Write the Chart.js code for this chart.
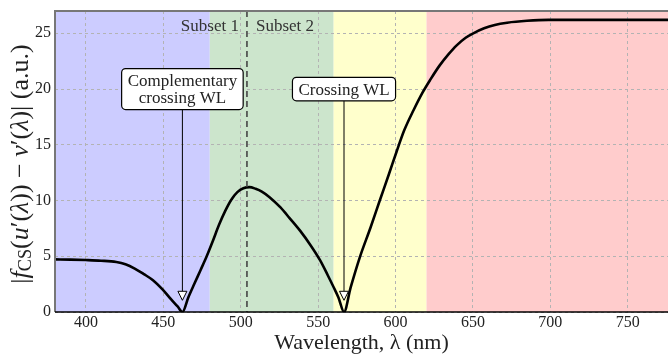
<!DOCTYPE html>
<html>
<head>
<meta charset="utf-8">
<script src="https://cdn.jsdelivr.net/npm/chart.js@4/dist/chart.umd.min.js"></script>
<style>
  html, body { margin: 0; padding: 0; background: #fff; }
  #chart { display: block; }
</style>
</head>
<body>
<canvas id="chart" width="668" height="356"></canvas>
<script>
// Kurve |f_CS(u'(λ)) - v'(λ)| über der Wellenlänge
const wavelengths = [380, 389.9, 399.8, 409.7, 419.6, 425.5, 431.5, 437.4, 443.3, 449.3, 455.2, 459.2, 462.3,
    466.1, 470.1, 474.0, 478.0, 481.9, 485.9, 489.9, 493.8, 497.8, 501.7, 505.7, 509.6, 513.6, 518.6, 525.5, 531.4,
    538.3, 545.3, 551.2, 556.2, 560.1, 563.1, 566.7, 571.0, 576.9, 583.9, 589.8, 595.8, 600.7, 605.6, 611.6,
    617.5, 622.5, 628.4, 634.4, 639.3, 645.3, 650.2, 657.2, 664.1, 672.1, 684.9, 698.8, 717.9, 776];
const signal = [4.72, 4.70, 4.66, 4.60, 4.48, 4.28, 3.90, 3.40, 2.85, 2.05, 1.10, 0.50, 0.0,
    1.30, 2.55, 3.75, 5.00, 6.35, 7.80, 9.05, 10.05, 10.75, 11.10, 11.20, 11.05, 10.80, 10.30, 9.40, 8.45,
    7.30, 5.95, 4.65, 3.30, 2.20, 1.30, 0.0, 2.20, 4.90, 7.60, 10.00, 12.40, 14.40, 16.30, 18.10,
    19.70, 20.85, 22.10, 23.15, 23.90, 24.60, 25.00, 25.45, 25.75, 25.95, 26.12, 26.20, 26.20, 26.20];

// Farbbereiche (Wellenlängen-Grenzen)
const regionEdges = [380, 480, 560, 620, 776];
const regionColors = ['#ccccff', '#cce5cc', '#ffffcc', '#ffcccc'];

const subsetSplit = 504;
const crossings = [
    { wl: 462.3, lines: ['Complementary', 'crossing WL'] },
    { wl: 566.7, lines: ['Crossing WL'] }
];
const labelLevel = 20;
const arrowTipLevel = 1.05;

const xTicks = [400, 450, 500, 550, 600, 650, 700, 750];
const yTicks = [0, 5, 10, 15, 20, 25];

const SERIF = '"Liberation Serif", "DejaVu Serif", serif';

const backgroundPlugin = {
    id: 'regions',
    beforeDraw(chart) {
        const { ctx, chartArea, scales: { x } } = chart;
        ctx.save();
        for (let i = 0; i < regionColors.length; i++) {
            const x0 = x.getPixelForValue(regionEdges[i]);
            const x1 = x.getPixelForValue(regionEdges[i + 1]);
            ctx.fillStyle = regionColors[i];
            ctx.fillRect(x0, chartArea.top, x1 - x0, chartArea.bottom - chartArea.top);
        }
        ctx.restore();
    }
};

function drawRich(ctx, segments, size) {
    // Breite messen, dann zentriert zeichnen
    const fontFor = s => (s.i ? 'italic ' : '') + (s.sub ? size * 0.7 : size) + 'px ' + SERIF;
    let total = 0;
    segments.forEach(s => { ctx.font = fontFor(s); total += ctx.measureText(s.t).width; });
    let cx = -total / 2;
    segments.forEach(s => {
        ctx.font = fontFor(s);
        ctx.fillText(s.t, cx, s.sub ? size * 0.22 : 0);
        cx += ctx.measureText(s.t).width;
    });
}

const overlayPlugin = {
    id: 'overlay',
    afterDatasetsDraw(chart) {
        const { ctx, chartArea, scales: { x, y } } = chart;
        ctx.save();

        // gestrichelte Trennlinie Subset 1 / Subset 2
        const sx = x.getPixelForValue(subsetSplit);
        ctx.strokeStyle = '#444';
        ctx.lineWidth = 1.6;
        ctx.setLineDash([6, 4]);
        ctx.beginPath();
        ctx.moveTo(sx, chartArea.top);
        ctx.lineTo(sx, chartArea.bottom);
        ctx.stroke();
        ctx.setLineDash([]);

        ctx.fillStyle = '#333';
        ctx.font = '17px ' + SERIF;
        ctx.textBaseline = 'middle';
        ctx.textAlign = 'right';
        ctx.fillText('Subset 1', sx - 8, 27);
        ctx.textAlign = 'left';
        ctx.fillText('Subset 2', sx + 9, 27);

        // Pfeile mit Beschriftung
        crossings.forEach(c => {
            const px = x.getPixelForValue(c.wl);
            const py = y.getPixelForValue(labelLevel);
            const tip = y.getPixelForValue(arrowTipLevel);
            ctx.font = '17px ' + SERIF;
            const w = Math.max(...c.lines.map(l => ctx.measureText(l).width)) + 12;
            const lh = 17.5;
            const h = c.lines.length * lh + 6;
            const bx = px - w / 2, by = py - h / 2;

            ctx.strokeStyle = '#000';
            ctx.lineWidth = 1;
            ctx.beginPath();
            ctx.moveTo(px, by + h);
            ctx.lineTo(px, tip - 9);
            ctx.stroke();
            ctx.beginPath();
            ctx.moveTo(px, tip);
            ctx.lineTo(px - 4.5, tip - 9);
            ctx.lineTo(px + 4.5, tip - 9);
            ctx.closePath();
            ctx.fillStyle = '#fff';
            ctx.fill();
            ctx.stroke();

            ctx.beginPath();
            ctx.roundRect(bx, by, w, h, 4);
            ctx.fillStyle = '#fff';
            ctx.fill();
            ctx.lineWidth = 1.2;
            ctx.stroke();

            ctx.fillStyle = '#222';
            ctx.textAlign = 'center';
            ctx.textBaseline = 'middle';
            c.lines.forEach((l, i) => {
                ctx.fillText(l, px, by + 3 + lh * (i + 0.5) + 1);
            });
        });
        ctx.restore();
    },
    afterDraw(chart) {
        const { ctx, chartArea } = chart;
        ctx.save();
        // Achsenrahmen
        ctx.strokeStyle = '#777';
        ctx.lineWidth = 2;
        ctx.beginPath();
        ctx.moveTo(chartArea.left, chartArea.bottom);
        ctx.lineTo(chartArea.left, chartArea.top);
        ctx.lineTo(chartArea.right, chartArea.top);
        ctx.stroke();
        ctx.strokeStyle = '#000';
        ctx.lineWidth = 1.5;
        ctx.beginPath();
        ctx.moveTo(chartArea.left, chartArea.bottom);
        ctx.lineTo(chartArea.right, chartArea.bottom);
        ctx.stroke();

        // y-Achsentitel mit Kursiv und Index
        ctx.translate(21, 164);
        ctx.rotate(-Math.PI / 2);
        ctx.fillStyle = '#222';
        ctx.textAlign = 'left';
        ctx.textBaseline = 'middle';
        drawRich(ctx, [
            { t: '|' }, { t: 'f', i: true }, { t: 'CS', sub: true }, { t: '(' },
            { t: 'u', i: true }, { t: '′(' }, { t: 'λ', i: true }, { t: ')) − ' },
            { t: 'v', i: true }, { t: '′(' }, { t: 'λ', i: true }, { t: ')| (a.u.)' }
        ], 26);
        ctx.restore();
    }
};

new Chart(document.getElementById('chart'), {
    type: 'line',
    data: {
        datasets: [{
            data: wavelengths.map((wl, i) => ({ x: wl, y: signal[i] })),
            borderColor: '#000',
            borderWidth: 2.6,
            pointRadius: 0,
            cubicInterpolationMode: 'monotone',
            fill: false
        }]
    },
    options: {
        responsive: false,
        animation: false,
        layout: { padding: { top: 11, right: 0, left: 0, bottom: 0 } },
        plugins: {
            legend: { display: false },
            tooltip: { enabled: false }
        },
        scales: {
            x: {
                type: 'linear',
                min: 380,
                max: 776,
                afterBuildTicks: axis => { axis.ticks = xTicks.map(v => ({ value: v })); },
                afterFit: axis => {
                    axis.height = 44;
                    axis.paddingLeft = 0;
                    axis.paddingRight = 0;
                },
                ticks: {
                    color: '#222',
                    font: { family: SERIF, size: 16 },
                    padding: 1,
                    maxRotation: 0
                },
                grid: { color: '#b3b3b3', lineWidth: 1, drawTicks: false },
                border: { display: false, dash: [3, 3] },
                title: {
                    display: true,
                    text: 'Wavelength, λ (nm)',
                    color: '#222',
                    font: { family: SERIF, size: 22 },
                    padding: { top: 0, bottom: 0 }
                }
            },
            y: {
                min: 0,
                max: 27,
                afterBuildTicks: axis => { axis.ticks = yTicks.map(v => ({ value: v })); },
                afterFit: axis => {
                    axis.width = 55;
                    axis.paddingTop = 0;
                    axis.paddingBottom = 0;
                },
                ticks: {
                    color: '#222',
                    font: { family: SERIF, size: 16 },
                    padding: 4
                },
                grid: { color: '#b3b3b3', lineWidth: 1, drawTicks: false },
                border: { display: false, dash: [3, 3] }
            }
        }
    },
    plugins: [backgroundPlugin, overlayPlugin]
});
</script>
</body>
</html>
